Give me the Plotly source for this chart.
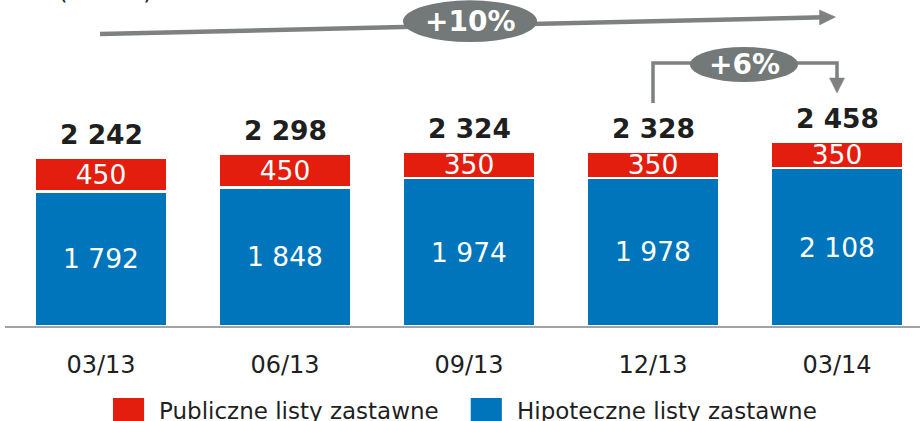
import plotly.graph_objects as go

# Covered bonds outstanding, by quarter end
periods = ["03/13", "06/13", "09/13", "12/13", "03/14"]
hipoteczne = [1792, 1848, 1974, 1978, 2108]
publiczne = [450, 450, 350, 350, 350]
totals = [h + p for h, p in zip(hipoteczne, publiczne)]
growth_labels = ["+10%", "+6%"]
unit_label = "(mln zł)"
legend_names = ["Publiczne listy zastawne", "Hipoteczne listy zastawne"]

RED = "#E31E0E"
BLUE = "#0075BC"
GREY = "#7F8181"
ELLIPSE = "#737878"
INK = "#1F1F1F"
FONT = "DejaVu Sans"


def fmt(v):
    return f"{v:,}".replace(",", " ")


x = list(range(len(periods)))

fig = go.Figure()
seg_style = dict(
    textposition="inside",
    insidetextanchor="middle",
    textangle=0,
    constraintext="none",
    insidetextfont=dict(color="white", size=26.5, family=FONT),
    showlegend=False,
    hoverinfo="skip",
)
fig.add_bar(x=x, y=hipoteczne, name=legend_names[1],
            marker=dict(color=BLUE, line=dict(color="white", width=2.5)),
            text=[fmt(v) for v in hipoteczne], **seg_style)
fig.add_bar(x=x, y=publiczne, name=legend_names[0],
            marker=dict(color=RED, line=dict(color="white", width=2.5)),
            text=[fmt(v) for v in publiczne], **seg_style)

annotations = []
for i, t in enumerate(totals):
    annotations.append(dict(x=i, y=t, text=f"<b>{fmt(t)}</b>", showarrow=False,
                            yanchor="middle", yshift=23,
                            font=dict(size=26.5, color=INK, family=FONT)))

# Growth arrows (category index on x, value units on y)
shapes = [
    # overall trend 03/13 -> 03/14
    dict(type="line", x0=-0.005, y0=3896, x1=3.93, y1=4119,
         line=dict(color=GREY, width=4.5), layer="above"),
    dict(type="path", path="M 3.905,4018 L 3.905,4218 L 3.992,4123 Z",
         fillcolor=GREY, line=dict(color=GREY, width=0.5), layer="above"),
    # quarter-on-quarter bracket 12/13 -> 03/14
    dict(type="path", path="M 3,2976 L 3,3509 L 4,3509 L 4,3300",
         line=dict(color=GREY, width=3.5), layer="above"),
    dict(type="path", path="M 3.959,3309 L 4.041,3309 L 4,3109 Z",
         fillcolor=GREY, line=dict(color=GREY, width=0.5), layer="above"),
    # ellipses behind the growth labels
    dict(type="circle", x0=1.641, x1=2.370, y0=3790, y1=4345,
         fillcolor=ELLIPSE, line=dict(width=0), layer="above"),
    dict(type="circle", x0=3.201, x1=3.788, y0=3256, y1=3723,
         fillcolor=ELLIPSE, line=dict(width=0), layer="above"),
]
annotations += [
    dict(x=2.005, y=4057, text=f"<b>{growth_labels[0]}</b>", showarrow=False,
         font=dict(size=28, color="white", family=FONT)),
    dict(x=3.495, y=3490, text=f"<b>{growth_labels[1]}</b>", showarrow=False,
         font=dict(size=28, color="white", family=FONT)),
]

# unit caption at the top-left, running off the top edge
annotations.append(dict(xref="paper", yref="paper", x=0.0557, y=1.081,
                        text=unit_label, showarrow=False,
                        font=dict(size=25, color=INK, family=FONT)))

# legend drawn as swatches + labels
for colour, name, sx0, sx1, tx in [
    (RED, legend_names[0], 0.118, 0.152, 0.1661),
    (BLUE, legend_names[1], 0.509, 0.543, 0.5574),
]:
    shapes.append(dict(type="rect", xref="paper", yref="paper",
                       x0=sx0, x1=sx1, y0=-0.2209, y1=-0.31,
                       fillcolor=colour, line=dict(width=0)))
    annotations.append(dict(xref="paper", yref="paper", x=tx, y=-0.2607,
                            xanchor="left", yanchor="middle", text=name,
                            showarrow=False,
                            font=dict(size=23, color=INK, family=FONT)))

fig.update_layout(
    width=920, height=421,
    margin=dict(l=5, r=0, t=0, b=95),
    barmode="stack", bargap=0.28,
    plot_bgcolor="white", paper_bgcolor="white",
    font=dict(family=FONT, color=INK),
    xaxis=dict(range=[-0.5217, 4.451], tickvals=x, ticktext=periods,
               showline=True, linecolor="#A3A3A3", linewidth=2,
               showgrid=False, zeroline=False, ticks="",
               tickfont=dict(size=24, color=INK, family=FONT),
               ticklabelstandoff=16, fixedrange=True),
    yaxis=dict(range=[0, 4350], visible=False, fixedrange=True),
    shapes=shapes,
    annotations=annotations,
)

fig.write_html("out.html")
